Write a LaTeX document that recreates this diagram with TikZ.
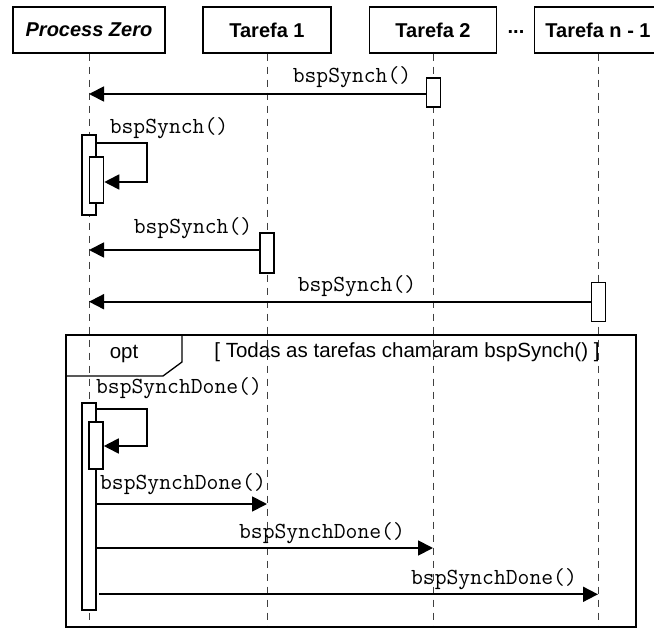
\documentclass[tikz,border=0pt]{standalone}
\usepackage{fontspec}
\setmainfont{Liberation Sans}
\usetikzlibrary{arrows.meta}
\begin{document}
\begin{tikzpicture}[x=1pt,y=-1pt,
  head/.style={draw, line width=1.2pt, minimum height=46pt, inner sep=0pt,
    font=\fontsize{20}{24}\selectfont\bfseries},
  life/.style={draw=black!75, line width=0.9pt, dash pattern=on 7pt off 6pt},
  act/.style={draw, fill=white, line width=1.6pt, minimum width=14pt, inner sep=0pt},
  msg/.style={line width=1.8pt, -{Triangle[length=15pt,width=15pt]}},
  lbl/.style={font=\ttfamily\fontsize{23}{25}\selectfont, inner sep=0pt},
  frm/.style={line width=1.3pt},
  guard/.style={font=\fontsize{20.5}{22}\selectfont, inner sep=0pt},
]
\useasboundingbox (0,0) rectangle (654,629);
\clip (0,0) rectangle (654,629);

% headers
\node[head, minimum width=152pt, font=\fontsize{20}{24}\selectfont\bfseries\itshape] (pz) at (89,30) {Process Zero};
\node[head, minimum width=128pt] (t1) at (267,30) {Tarefa 1};
\node[head, minimum width=127pt] (t2) at (433,30) {Tarefa 2};
\node[head, minimum width=127pt] (tn) at (598,30) {Tarefa n - 1};
\node[font=\fontsize{20}{24}\selectfont\bfseries, inner sep=0pt] (dots) at (516,32) {...};

% lifelines
\coordinate (bot) at (0,627);
\draw[life] (pz.south) -- (pz.south |- bot);
\draw[life] (t1.south) -- (t1.south |- bot);
\draw[life] (t2.south) -- (t2.south |- bot);
\draw[life] (tn.south) -- (tn.south |- bot);

% opt frame
\draw[frm] (66,335) rectangle (636,627);
\draw[frm] (66,335) -- (182,335) -- (182,362) -- (163,376) -- (66,376);
\node[guard] (opt) at (124,354) {opt};
\node[guard] (grd) at (407,352) {[ Todas as tarefas chamaram bspSynch() ]};

% activations
\node[act, minimum height=29pt] (a1) at (433.5,92.5) {};
\node[act, minimum height=80pt] (s1) at (89,175) {};
\node[act, minimum height=46pt] (s2) at (96.5,180) {};
\node[act, minimum height=40pt] (a3) at (266.7,253) {};
\node[act, minimum height=39pt] (a4) at (598.3,302) {};
\node[act, minimum height=207pt] (o1) at (89,506.5) {};
\node[act, minimum height=47pt] (o2) at (96,445.5) {};

% coordinates on lifelines
\coordinate (y1) at (0,94);
\coordinate (y3) at (0,250);
\coordinate (y4) at (0,301.7);
\coordinate (y6) at (0,504);
\coordinate (y7) at (0,548);
\coordinate (y8) at (0,594.3);

% messages
\draw[msg] (a1.west |- y1) -- (pz.south |- y1);
\draw[msg] (s1.east |- 0,143) -- (147,143) |- (s2.east |- 0,182);
\draw[msg] (a3.west |- y3) -- (pz.south |- y3);
\draw[msg] (a4.west |- y4) -- (pz.south |- y4);
\draw[msg] (o1.east |- 0,409) -- (146.7,409) |- (o2.east |- 0,446);
\draw[msg] (o1.east |- y6) -- (t1.south |- y6);
\draw[msg] (o1.east |- y7) -- (t2.south |- y7);
\draw[msg] ([xshift=2.5pt]o1.east |- y8) -- (tn.south |- y8);

% labels
\node[lbl] (l1) at (352,77) {bspSynch()};
\node[lbl] (l2) at (169,128) {bspSynch()};
\node[lbl] (l3) at (193,228) {bspSynch()};
\node[lbl] (l4) at (357,286) {bspSynch()};
\node[lbl] (l5) at (179,388) {bspSynchDone()};
\node[lbl] (l6) at (183,484) {bspSynchDone()};
\node[lbl] (l7) at (322,533) {bspSynchDone()};
\node[lbl] (l8) at (494,579) {bspSynchDone()};
\end{tikzpicture}
\end{document}
